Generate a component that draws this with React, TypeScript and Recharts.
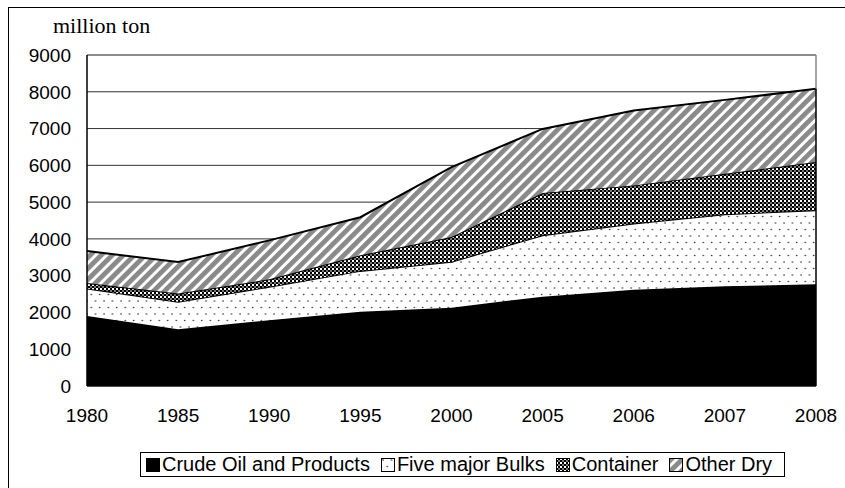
import React from "react";
import {
  AreaChart,
  Area,
  XAxis,
  YAxis,
  CartesianGrid,
  ReferenceLine,
} from "recharts";

const years = ["1980", "1985", "1990", "1995", "2000", "2005", "2006", "2007", "2008"];
const crudeOil = [1900, 1540, 1790, 2020, 2130, 2430, 2620, 2710, 2770];
const majorBulks = [750, 750, 910, 1110, 1250, 1670, 1800, 1960, 2010];
const container = [150, 225, 200, 425, 670, 1145, 1035, 1100, 1310];
const otherDry = [870, 855, 1060, 1035, 1900, 1745, 2035, 2010, 1990];
const yTicks = [0, 1000, 2000, 3000, 4000, 5000, 6000, 7000, 8000, 9000];

const seriesNames = ["Crude Oil and Products", "Five major Bulks", "Container", "Other Dry"];
const seriesFills = ["#000", "url(#dotsPat)", "url(#checkPat)", "url(#stripePat)"];

const data = years.map((year, i) => ({
  year,
  crude: crudeOil[i],
  bulks: majorBulks[i],
  container: container[i],
  other: otherDry[i],
}));

const lastTotal =
  crudeOil[crudeOil.length - 1] +
  majorBulks[majorBulks.length - 1] +
  container[container.length - 1] +
  otherDry[otherDry.length - 1];

const axisFont = { fontFamily: "Arial, 'Liberation Sans', sans-serif", fontSize: 19, fill: "#000" };

// legend drawn outside the chart so it doesn't eat plot height
function PatternLegend() {
  return (
    <div
      style={{
        position: "absolute",
        left: 140,
        top: 452,
        width: 645,
        height: 25,
        border: "1px solid #000",
        boxSizing: "border-box",
        background: "#fff",
        display: "flex",
        alignItems: "center",
        paddingLeft: 5,
        fontFamily: "Arial, 'Liberation Sans', sans-serif",
        fontSize: 20,
        color: "#000",
        whiteSpace: "nowrap",
      }}
    >
      {seriesNames.map((name, i) => (
        <span key={name} style={{ display: "flex", alignItems: "center", marginRight: 11 }}>
          <svg width={14} height={14} style={{ marginRight: 2 }}>
            <rect x={0.5} y={0.5} width={13} height={13} fill={seriesFills[i]} stroke="#000" strokeWidth={1} />
          </svg>
          {name}
        </span>
      ))}
    </div>
  );
}

export default function App() {
  return (
    <div style={{ position: "absolute", left: 0, top: 0, width: 845, height: 488, background: "#fff" }}>
      <div
        style={{
          position: "absolute",
          left: 8,
          top: 7,
          width: 837,
          height: 481,
          borderLeft: "1.5px solid #000",
          borderTop: "1.5px solid #000",
        }}
      />
      <div
        style={{
          position: "absolute",
          left: 53,
          top: 13,
          fontFamily: "'Liberation Serif', 'Times New Roman', serif",
          fontSize: 22,
          color: "#000",
        }}
      >
        million ton
      </div>
      <div style={{ position: "absolute", left: 0, top: 0 }}>
        <AreaChart
          width={845}
          height={488}
          data={data}
          margin={{ top: 55, right: 29, left: 17, bottom: 72 }}
        >
          <defs>
            <pattern id="dotsPat" patternUnits="userSpaceOnUse" width={8.5} height={13}>
              <rect width={8.5} height={13} fill="#fff" />
              <circle cx={2} cy={2} r={0.8} fill="#222" />
              <circle cx={6.25} cy={8.5} r={0.8} fill="#222" />
            </pattern>
            <pattern id="checkPat" patternUnits="userSpaceOnUse" width={4} height={4}>
              <rect width={4} height={4} fill="#000" />
              <rect x={0} y={0} width={2} height={2} fill="#fff" />
              <rect x={2} y={2} width={2} height={2} fill="#777" />
            </pattern>
            <pattern
              id="stripePat"
              patternUnits="userSpaceOnUse"
              width={7.8}
              height={7.8}
              patternTransform="rotate(45)"
            >
              <rect width={7.8} height={7.8} fill="#fff" />
              <rect x={0} y={0} width={4.8} height={7.8} fill="#8a8a8a" />
            </pattern>
          </defs>
          <CartesianGrid vertical={false} stroke="#333" strokeWidth={1} />
          <XAxis
            dataKey="year"
            height={30}
            tick={axisFont}
            tickLine={false}
            tickSize={0}
            tickMargin={23}
            axisLine={{ stroke: "#000" }}
          />
          <YAxis
            domain={[0, 9000]}
            ticks={yTicks}
            tick={axisFont}
            tickLine={false}
            tickSize={0}
            tickMargin={16}
            width={70}
            axisLine={{ stroke: "#000", strokeWidth: 1.5 }}
          />
          <Area
            type="linear"
            dataKey="crude"
            name={seriesNames[0]}
            stackId="1"
            fill={seriesFills[0]}
            fillOpacity={1}
            stroke="#000"
            strokeWidth={2}
            isAnimationActive={false}
          />
          <Area
            type="linear"
            dataKey="bulks"
            name={seriesNames[1]}
            stackId="1"
            fill={seriesFills[1]}
            fillOpacity={1}
            stroke="#000"
            strokeWidth={2}
            isAnimationActive={false}
          />
          <Area
            type="linear"
            dataKey="container"
            name={seriesNames[2]}
            stackId="1"
            fill={seriesFills[2]}
            fillOpacity={1}
            stroke="#000"
            strokeWidth={2}
            isAnimationActive={false}
          />
          <Area
            type="linear"
            dataKey="other"
            name={seriesNames[3]}
            stackId="1"
            fill={seriesFills[3]}
            fillOpacity={1}
            stroke="#000"
            strokeWidth={2}
            isAnimationActive={false}
          />
          <ReferenceLine y={9000} stroke="#888" strokeWidth={1.5} />
          <ReferenceLine
            segment={[
              { x: "2008", y: lastTotal },
              { x: "2008", y: 9000 },
            ]}
            stroke="#888"
            strokeWidth={1.5}
          />
          <ReferenceLine
            segment={[
              { x: "2008", y: 0 },
              { x: "2008", y: lastTotal },
            ]}
            stroke="#000"
            strokeWidth={1.5}
          />
        </AreaChart>
      </div>
      <PatternLegend />
    </div>
  );
}
